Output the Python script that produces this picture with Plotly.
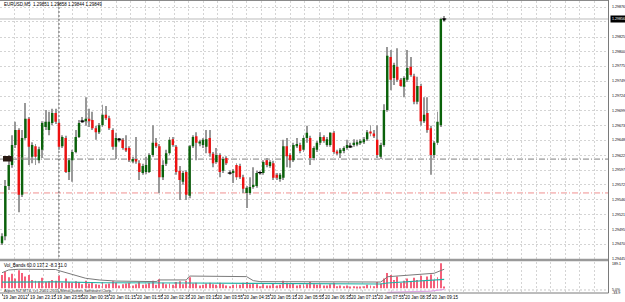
import plotly.graph_objects as go

# ---------------- data (EURUSD M5, 19 Jan 2012 22:35 -> 20 Jan 09:35) ----------------
open_ = [1.29472, 1.29484, 1.29570, 1.29606, 1.29640, 1.29666, 1.29555, 1.29652, 1.29685, 1.29620,
         1.29638, 1.29614, 1.29632, 1.29671, 1.29666, 1.29678, 1.29695, 1.29678, 1.29638, 1.29652,
         1.29594, 1.29614, 1.29628, 1.29654, 1.29680, 1.29681, 1.29685, 1.29683, 1.29669, 1.29662,
         1.29674, 1.29692, 1.29686, 1.29666, 1.29637, 1.29649, 1.29649, 1.29635, 1.29635, 1.29613,
         1.29616, 1.29609, 1.29592, 1.29594, 1.29594, 1.29623, 1.29644, 1.29638, 1.29585, 1.29608,
         1.29626, 1.29650, 1.29637, 1.29596, 1.29577, 1.29594, 1.29553, 1.29638, 1.29655, 1.29643,
         1.29640, 1.29637, 1.29652, 1.29625, 1.29611, 1.29623, 1.29596, 1.29618, 1.29593, 1.29592,
         1.29606, 1.29604, 1.29585, 1.29558, 1.29558, 1.29568, 1.29570, 1.29592, 1.29592, 1.29614,
         1.29604, 1.29609, 1.29589, 1.29582, 1.29584, 1.29638, 1.29623, 1.29614, 1.29638, 1.29640,
         1.29632, 1.29652, 1.29652, 1.29618, 1.29632, 1.29644, 1.29654, 1.29640, 1.29640, 1.29661,
         1.29629, 1.29626, 1.29630, 1.29635, 1.29638, 1.29640, 1.29641, 1.29643, 1.29645, 1.29650,
         1.29662, 1.29660, 1.29649, 1.29620, 1.29640, 1.29700, 1.29791, 1.29755, 1.29774, 1.29752,
         1.29740, 1.29752, 1.29774, 1.29758, 1.29714, 1.29741, 1.29681, 1.29695, 1.29669, 1.29623,
         1.29644, 1.29674, 1.29855]
high_ = [1.29489, 1.29580, 1.29623, 1.29657, 1.29680, 1.29669, 1.29666, 1.29712, 1.29688, 1.29645,
         1.29642, 1.29637, 1.29681, 1.29700, 1.29697, 1.29702, 1.29702, 1.29681, 1.29657, 1.29656,
         1.29618, 1.29632, 1.29666, 1.29683, 1.29688, 1.29722, 1.29702, 1.29697, 1.29673, 1.29678,
         1.29709, 1.29707, 1.29690, 1.29669, 1.29661, 1.29652, 1.29652, 1.29657, 1.29638, 1.29620,
         1.29654, 1.29614, 1.29608, 1.29620, 1.29626, 1.29674, 1.29652, 1.29642, 1.29614, 1.29632,
         1.29654, 1.29654, 1.29640, 1.29604, 1.29596, 1.29597, 1.29640, 1.29657, 1.29662, 1.29649,
         1.29652, 1.29666, 1.29666, 1.29628, 1.29635, 1.29626, 1.29620, 1.29621, 1.29597, 1.29599,
         1.29609, 1.29608, 1.29589, 1.29570, 1.29585, 1.29602, 1.29596, 1.29596, 1.29614, 1.29618,
         1.29614, 1.29613, 1.29592, 1.29592, 1.29649, 1.29652, 1.29626, 1.29644, 1.29652, 1.29644,
         1.29657, 1.29673, 1.29656, 1.29638, 1.29647, 1.29662, 1.29657, 1.29654, 1.29662, 1.29664,
         1.29632, 1.29635, 1.29638, 1.29649, 1.29644, 1.29650, 1.29649, 1.29650, 1.29654, 1.29666,
         1.29674, 1.29666, 1.29674, 1.29644, 1.29710, 1.29808, 1.29803, 1.29781, 1.29806, 1.29755,
         1.29758, 1.29803, 1.29791, 1.29762, 1.29757, 1.29745, 1.29722, 1.29722, 1.29673, 1.29647,
         1.29697, 1.29858, 1.29861]
low_ = [1.29469, 1.29477, 1.29563, 1.29601, 1.29635, 1.29525, 1.29551, 1.29649, 1.29606, 1.29609,
        1.29606, 1.29609, 1.29618, 1.29666, 1.29657, 1.29674, 1.29676, 1.29632, 1.29635, 1.29592,
        1.29580, 1.29577, 1.29626, 1.29652, 1.29679, 1.29673, 1.29671, 1.29666, 1.29649, 1.29659,
        1.29671, 1.29683, 1.29666, 1.29632, 1.29616, 1.29645, 1.29632, 1.29628, 1.29611, 1.29609,
        1.29608, 1.29580, 1.29589, 1.29590, 1.29592, 1.29620, 1.29635, 1.29558, 1.29580, 1.29604,
        1.29623, 1.29637, 1.29589, 1.29546, 1.29572, 1.29546, 1.29549, 1.29635, 1.29614, 1.29638,
        1.29635, 1.29626, 1.29620, 1.29602, 1.29608, 1.29585, 1.29592, 1.29606, 1.29589, 1.29575,
        1.29580, 1.29582, 1.29558, 1.29532, 1.29555, 1.29565, 1.29567, 1.29589, 1.29589, 1.29602,
        1.29601, 1.29580, 1.29580, 1.29577, 1.29580, 1.29602, 1.29601, 1.29611, 1.29635, 1.29626,
        1.29628, 1.29644, 1.29606, 1.29614, 1.29628, 1.29640, 1.29644, 1.29637, 1.29637, 1.29625,
        1.29623, 1.29618, 1.29626, 1.29632, 1.29635, 1.29637, 1.29638, 1.29640, 1.29642, 1.29647,
        1.29655, 1.29652, 1.29618, 1.29616, 1.29637, 1.29697, 1.29734, 1.29743, 1.29748, 1.29740,
        1.29722, 1.29748, 1.29757, 1.29710, 1.29710, 1.29673, 1.29678, 1.29661, 1.29589, 1.29618,
        1.29640, 1.29671, 1.29851]
close_ = [1.29484, 1.29570, 1.29606, 1.29640, 1.29666, 1.29555, 1.29652, 1.29685, 1.29637, 1.29640,
          1.29620, 1.29633, 1.29678, 1.29680, 1.29680, 1.29695, 1.29680, 1.29637, 1.29654, 1.29594,
          1.29614, 1.29628, 1.29654, 1.29678, 1.29681, 1.29685, 1.29681, 1.29669, 1.29662, 1.29674,
          1.29692, 1.29686, 1.29669, 1.29637, 1.29652, 1.29650, 1.29635, 1.29632, 1.29614, 1.29616,
          1.29613, 1.29594, 1.29604, 1.29606, 1.29623, 1.29644, 1.29638, 1.29585, 1.29606, 1.29626,
          1.29649, 1.29640, 1.29594, 1.29580, 1.29592, 1.29555, 1.29638, 1.29654, 1.29644, 1.29645,
          1.29649, 1.29650, 1.29626, 1.29609, 1.29623, 1.29594, 1.29616, 1.29609, 1.29592, 1.29596,
          1.29585, 1.29585, 1.29565, 1.29567, 1.29568, 1.29572, 1.29592, 1.29593, 1.29611, 1.29606,
          1.29611, 1.29584, 1.29584, 1.29589, 1.29638, 1.29621, 1.29614, 1.29640, 1.29642, 1.29630,
          1.29652, 1.29661, 1.29618, 1.29635, 1.29644, 1.29654, 1.29647, 1.29650, 1.29661, 1.29628,
          1.29626, 1.29632, 1.29635, 1.29640, 1.29637, 1.29644, 1.29645, 1.29647, 1.29650, 1.29662,
          1.29660, 1.29655, 1.29623, 1.29640, 1.29700, 1.29793, 1.29752, 1.29777, 1.29752, 1.29741,
          1.29755, 1.29772, 1.29760, 1.29714, 1.29741, 1.29681, 1.29692, 1.29666, 1.29623, 1.29644,
          1.29680, 1.29856, 1.29856]
volume = [95, 120, 80, 105, 70, 130, 110, 85, 95, 60, 55, 50, 75, 45, 50, 60, 55, 90, 40, 70,
          45, 40, 50, 45, 30, 55, 35, 40, 30, 25, 45, 30, 35, 50, 40, 20, 30, 35, 40, 20,
          30, 45, 25, 30, 40, 55, 25, 65, 40, 30, 35, 25, 45, 50, 30, 55, 80, 35, 40, 20,
          25, 35, 40, 30, 25, 40, 30, 20, 15, 25, 30, 25, 40, 45, 30, 35, 30, 15, 30, 20,
          20, 35, 20, 25, 55, 40, 30, 35, 20, 25, 30, 30, 45, 30, 25, 30, 20, 20, 30, 40,
          15, 20, 15, 20, 10, 15, 12, 12, 15, 25, 20, 15, 45, 35, 70, 110, 95, 60, 85, 40,
          55, 70, 45, 75, 60, 90, 55, 85, 100, 60, 80, 180, 11]

upper_band_idx = [0, 2, 5, 16, 17, 22, 25, 29, 34, 46, 47, 55, 56, 73, 75, 77, 95, 113, 114, 115, 129, 132]
upper_band = [112, 132, 137, 135, 127, 96, 72, 60, 52, 48, 60, 60, 88, 84, 55, 48, 48, 45, 60, 83, 108, 137.2]
mid_band_idx = [0, 16, 17, 30, 50, 56, 75, 95, 113, 115, 125, 132]
mid_band = [45, 48, 46, 40, 35, 38, 36, 32, 31, 38, 52, 64.5]
lower_band_idx = [115, 122, 128, 132]
lower_band = [-29, -26, -20, -8.3]

time_label_idx = [0, 8, 16, 24, 32, 40, 48, 56, 64, 72, 80, 88, 96, 104, 112, 120, 128]
time_labels = ["19 Jan 2012", "19 Jan 23:15", "19 Jan 23:55", "20 Jan 00:35", "20 Jan 01:15",
               "20 Jan 01:55", "20 Jan 02:35", "20 Jan 03:15", "20 Jan 03:55", "20 Jan 04:35",
               "20 Jan 05:15", "20 Jan 05:55", "20 Jan 06:35", "20 Jan 07:15", "20 Jan 07:55",
               "20 Jan 08:35", "20 Jan 09:15"]
price_ticks = [1.29876, 1.29851, 1.29825, 1.29800, 1.29775, 1.29749, 1.29724, 1.29699, 1.29673,
               1.29648, 1.29622, 1.29597, 1.29572, 1.29546, 1.29521, 1.29495, 1.29470, 1.29445]
bid_price = 1.29856
level_gray = 1.29616
level_red = 1.29558
day_separator_idx = 17
vol_scale_labels = ["189.1", "5.0%", "-33.9"]
header_text = "EURUSD,M5  1.29851 1.29858 1.29844 1.29849"
ind_text = "Vol_Bands 60.0 137.2 -8.3 11.0"
copyright_text = "Alpari NZ MT4, (c) 2001-2011 MetaQuotes Software Corp."

# ---------------- layout geometry (pixels) ----------------
W, H = 625, 302
PW = 609                 # plot-area width (price scale to the right)
BAR_PX = 3.35            # pixels per bar
X0_PX = 2.0              # pixel of first bar
MAIN_TOP, MAIN_BOT = 0.5, 259.5
IND_TOP, IND_BOT = 261.5, 293.0


def py(p):
    return 1 - p / H


def pxp(p):
    return p / PW


xr0 = -X0_PX / BAR_PX
xr1 = xr0 + PW / BAR_PX
idx = list(range(len(open_)))

bull, bear, doji_c = "#0a620a", "#ee1111", "#000000"
body_col, body_base, body_h = [], [], []
doji_x, doji_y = [], []
for i in idx:
    o, c = open_[i], close_[i]
    body_base.append(min(o, c))
    body_h.append(abs(c - o))
    if abs(c - o) < 0.0000105:
        body_col.append(doji_c)
        doji_x.append(i)
        doji_y.append(c)
    elif c > o:
        body_col.append(bull)
    else:
        body_col.append(bear)

fig = go.Figure()
fig.add_trace(go.Bar(x=idx, y=[h - l for h, l in zip(high_, low_)], base=low_, width=0.3,
                     marker=dict(color="#999999", line=dict(width=0)), xaxis="x", yaxis="y"))
fig.add_trace(go.Bar(x=idx, y=body_h, base=body_base, width=0.72,
                     marker=dict(color=body_col, line=dict(width=0)), xaxis="x", yaxis="y"))
fig.add_trace(go.Scatter(x=doji_x, y=doji_y, mode="markers",
                         marker=dict(symbol="line-ew", size=3, line=dict(width=1, color="#000")),
                         xaxis="x", yaxis="y"))
fig.add_trace(go.Bar(x=idx, y=volume, width=0.3, marker=dict(color="#f5607a", line=dict(width=0)),
                     xaxis="x2", yaxis="y2"))
fig.add_trace(go.Scatter(x=upper_band_idx, y=upper_band, mode="lines",
                         line=dict(color="#7a7a7a", width=1), xaxis="x2", yaxis="y2"))
fig.add_trace(go.Scatter(x=mid_band_idx, y=mid_band, mode="lines",
                         line=dict(color="#22b0a4", width=1.2), xaxis="x2", yaxis="y2"))
fig.add_trace(go.Scatter(x=lower_band_idx, y=lower_band, mode="lines",
                         line=dict(color="#e2a6e6", width=1.2), xaxis="x2", yaxis="y2"))

grid = dict(color="#d4d4d4", dash="2px,2px")
minor_grid = dict(tickmode="linear", tick0=(0.5 - X0_PX) / BAR_PX, dtick=14.48 / BAR_PX,
                  showgrid=True, gridcolor=grid["color"], griddash=grid["dash"], gridwidth=1, ticks="")

shapes = [
    # bid line
    dict(type="line", xref="paper", yref="y", x0=0, x1=1, y0=bid_price, y1=bid_price,
         line=dict(color="#d2d2d2", width=1.6), layer="below"),
    # horizontal levels
    dict(type="line", xref="paper", yref="y", x0=0, x1=1, y0=level_gray, y1=level_gray,
         line=dict(color="#808080", width=1, dash="6px,2px,1px,2px"), layer="below"),
    dict(type="line", xref="paper", yref="y", x0=0, x1=1, y0=level_red, y1=level_red,
         line=dict(color="#f09090", width=1, dash="6px,2px,1px,2px"), layer="below"),
    # day separator
    dict(type="line", xref="x", yref="paper", x0=day_separator_idx, x1=day_separator_idx,
         y0=py(IND_BOT), y1=py(MAIN_TOP), line=dict(color="#555555", width=1, dash="2px,2px"),
         layer="below"),
    # indicator level line
    dict(type="line", xref="paper", yref="y2", x0=0, x1=1, y0=-12, y1=-12,
         line=dict(color="#c8c8c8", width=1, dash="2px,2px"), layer="below"),
    # pane separator
    dict(type="rect", xref="paper", yref="paper", x0=0, x1=1, y0=py(261.2), y1=py(258.8),
         fillcolor="#9a9a9a", line=dict(width=0)),
    # borders
    dict(type="line", xref="paper", yref="paper", x0=0, x1=1, y0=py(0.5), y1=py(0.5),
         line=dict(color="#8a8a8a", width=1)),
    dict(type="line", xref="paper", yref="paper", x0=pxp(608.5), x1=pxp(608.5), y0=py(IND_BOT), y1=1,
         line=dict(color="#7a7a7a", width=1)),
    dict(type="line", xref="paper", yref="paper", x0=0, x1=pxp(608.5), y0=py(IND_BOT), y1=py(IND_BOT),
         line=dict(color="#7a7a7a", width=1)),
    # label box of gray level at left
    dict(type="rect", xref="paper", yref="paper", x0=pxp(3), x1=pxp(12.5), y0=py(161.5), y1=py(156),
         fillcolor="#2a1a12", line=dict(width=0)),
]

FAM = "Liberation Sans, Arial, sans-serif"
small = dict(family=FAM, size=4.5, color="#000000")
scale_font = dict(family=FAM, size=3.6, color="#000000")
annotations = []
for v in price_ticks:
    if abs(v - bid_price) < 0.00009:
        continue
    annotations.append(dict(x=pxp(610.5), xref="paper", y=v, yref="y", text=f"{v:.5f}",
                            showarrow=False, xanchor="left", yanchor="middle", font=scale_font, borderpad=0))
annotations.append(dict(x=pxp(609.5), xref="paper", y=bid_price, yref="y", text=f"{bid_price:.5f}",
                        showarrow=False, xanchor="left", yanchor="middle", bgcolor="#000000",
                        font=dict(family=FAM, size=3.6, color="#ffffff"), borderpad=1))
for i, t in zip(time_label_idx, time_labels):
    annotations.append(dict(x=i, xref="x2", y=py(297.5), yref="paper", text=t, showarrow=False,
                            xanchor="left", yanchor="middle", font=small, borderpad=0))
annotations.append(dict(x=pxp(2.5), xref="paper", y=py(5), yref="paper", text=header_text,
                        showarrow=False, xanchor="left", yanchor="middle", font=small, borderpad=0))
annotations.append(dict(x=pxp(13), xref="paper", y=py(158.8), yref="paper", text=f"{level_gray:.5f}",
                        showarrow=False, xanchor="left", yanchor="middle",
                        font=dict(family=FAM, size=4, color="#a0a0a0"), borderpad=0))
annotations.append(dict(x=pxp(2.5), xref="paper", y=py(265.5), yref="paper", text=ind_text,
                        showarrow=False, xanchor="left", yanchor="middle", font=small, borderpad=0))
annotations.append(dict(x=pxp(2.5), xref="paper", y=py(290.5), yref="paper", text=copyright_text,
                        showarrow=False, xanchor="left", yanchor="middle",
                        font=dict(family=FAM, size=4.2, color="#333333"), borderpad=0))
for lab, ypx in zip(vol_scale_labels, [264, 289.5, 293]):
    annotations.append(dict(x=pxp(610.5), xref="paper", y=py(ypx), yref="paper", text=lab,
                            showarrow=False, xanchor="left", yanchor="middle", font=scale_font, borderpad=0))

fig.update_layout(
    width=W, height=H, margin=dict(l=0, r=W - PW, t=0, b=0),
    paper_bgcolor="#ffffff", plot_bgcolor="#ffffff",
    showlegend=False, hovermode=False, barmode="overlay",
    xaxis=dict(domain=[0, 1], range=[xr0, xr1], anchor="y", showticklabels=False, ticks="",
               showgrid=False, zeroline=False, showline=False, minor=minor_grid),
    xaxis2=dict(domain=[0, 1], range=[xr0, xr1], anchor="y2", matches="x", showticklabels=False,
                tickmode="array", tickvals=time_label_idx, ticks="outside", ticklen=2,
                tickcolor="#777777", showgrid=False, zeroline=False, showline=False, minor=minor_grid),
    yaxis=dict(domain=[py(MAIN_BOT), py(MAIN_TOP)], range=[1.294440, 1.298876], anchor="x",
               tickmode="array", tickvals=price_ticks, showticklabels=False, ticks="",
               showgrid=True, gridcolor=grid["color"], griddash=grid["dash"], gridwidth=1,
               zeroline=False, showline=False),
    yaxis2=dict(domain=[py(IND_BOT), py(IND_TOP)], range=[-33.8, 192.7], anchor="x2",
                showticklabels=False, ticks="", showgrid=False, zeroline=False, showline=False),
    shapes=shapes, annotations=annotations,
)

fig.write_html("out.html")
